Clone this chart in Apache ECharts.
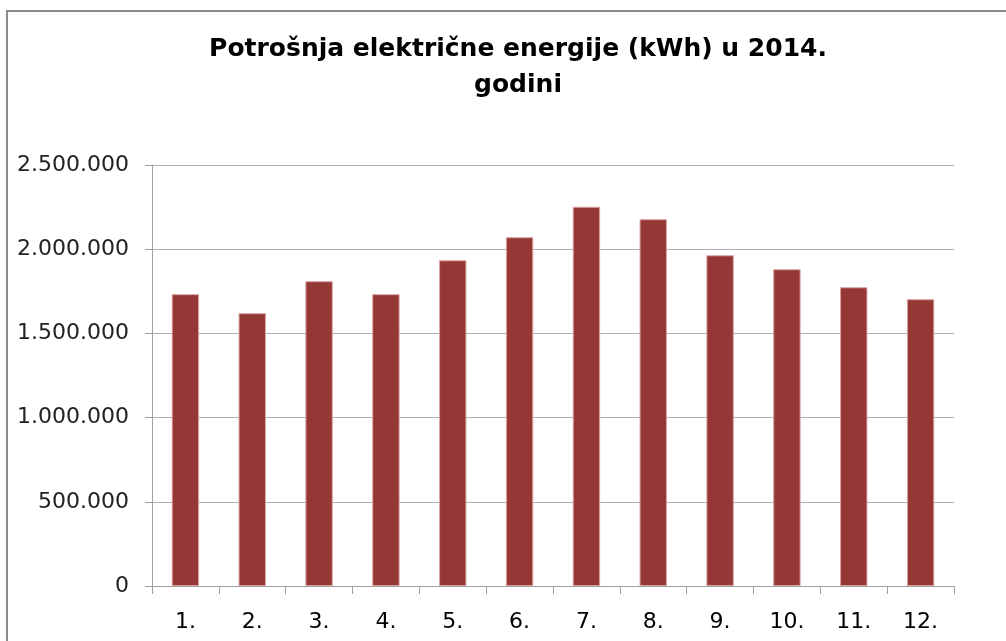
<!DOCTYPE html>
<html>
<head>
<meta charset="utf-8">
<script src="https://cdn.jsdelivr.net/npm/echarts@6/dist/echarts.min.js"></script>
<style>
html,body{margin:0;padding:0;background:#fff;}
#chart{width:1006px;height:641px;}
</style>
</head>
<body>
<div id="chart"></div>
<script>
const titleText = 'Potrošnja električne energije (kWh) u 2014.\ngodini';
const categories = ['1.', '2.', '3.', '4.', '5.', '6.', '7.', '8.', '9.', '10.', '11.', '12.'];
const consumption = [1733000, 1620000, 1810000, 1733000, 1934000, 2071000, 2252000, 2178000, 1964000, 1881000, 1774000, 1703000];
const yMin = 0, yMax = 2500000, yStep = 500000;

function fmt(v) {
  return String(Math.round(v)).replace(/\B(?=(\d{3})+(?!\d))/g, '.');
}

const chart = echarts.init(document.getElementById('chart'), null, {renderer: 'canvas'});
chart.setOption({
  animation: false,
  backgroundColor: '#ffffff',
  graphic: [{
    type: 'polyline',
    shape: {points: [[7, 641], [7, 11], [1006, 11]]},
    style: {stroke: '#8c8c8c', lineWidth: 2, fill: null},
    silent: true
  }],
  title: {
    text: titleText,
    left: 513,
    top: 26,
    textAlign: 'center',
    textStyle: {
      fontFamily: 'DejaVu Sans',
      fontWeight: 'bold',
      fontSize: 25,
      lineHeight: 36,
      color: '#000'
    }
  },
  grid: {left: 152, right: 52, top: 165, bottom: 55, containLabel: false},
  xAxis: {
    type: 'category',
    data: categories,
    boundaryGap: true,
    axisLine: {show: true, lineStyle: {color: '#a0a0a0', width: 1}},
    axisTick: {show: true, length: 8, alignWithLabel: false, lineStyle: {color: '#a0a0a0'}},
    axisLabel: {
      fontFamily: 'DejaVu Sans',
      fontSize: 22,
      color: '#000',
      margin: 25
    }
  },
  yAxis: {
    type: 'value',
    min: yMin,
    max: yMax,
    interval: yStep,
    axisLine: {show: true, lineStyle: {color: '#a0a0a0', width: 1}},
    axisTick: {show: true, length: 7, lineStyle: {color: '#a0a0a0'}},
    splitLine: {show: true, lineStyle: {color: '#b0b0b0', width: 1}},
    axisLabel: {
      fontFamily: 'DejaVu Sans',
      fontSize: 22,
      color: '#222',
      margin: 23,
      formatter: fmt
    }
  },
  series: [{
    type: 'bar',
    data: consumption,
    barWidth: '41%',
    itemStyle: {color: '#953735', borderColor: '#d9a3a2', borderWidth: 1}
  }]
});
</script>
</body>
</html>
